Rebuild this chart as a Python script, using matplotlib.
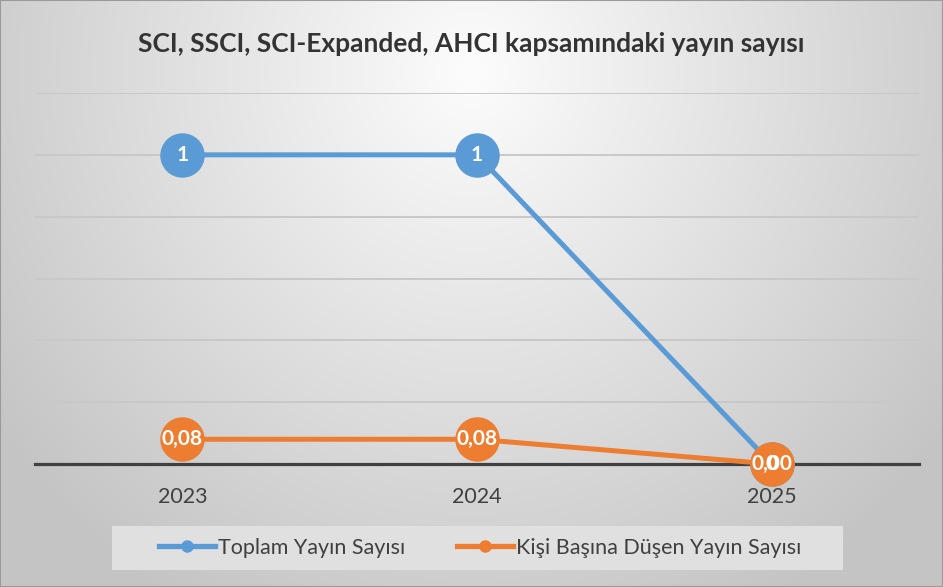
import numpy as np
import matplotlib
matplotlib.use("Agg")
import matplotlib.pyplot as plt
from matplotlib.patches import Rectangle
from matplotlib.lines import Line2D

years = ["2023", "2024", "2025"]
toplam = [1, 1, 0]
kisi = [0.08, 0.08, 0.00]
toplam_labels = ["1", "1", "0"]
kisi_labels = ["0,08", "0,08", "0,00"]
series_names = ["Toplam Yayın Sayısı", "Kişi Başına Düşen Yayın Sayısı"]
title = "SCI, SSCI, SCI-Expanded, AHCI kapsamındaki yayın sayısı"

FONT = ["Lato", "DejaVu Sans"]
plt.rcParams["font.family"] = FONT

W, H = 943, 587
fig = plt.figure(figsize=(W / 100, H / 100), dpi=100)

# background gradient
bg = fig.add_axes([0, 0, 1, 1], zorder=-10)
yy, xx = np.mgrid[0:H, 0:W]
dx = (xx - W * 0.5) / (W * 0.62)
dy = (yy - H * 0.12) / (H * 1.05)
r = np.sqrt(dx ** 2 + dy ** 2)
r = np.clip(r, 0, 1)
val = 0.99 - 0.22 * r
img = np.dstack([val, val, val])
bg.imshow(img, extent=[0, 1, 0, 1], aspect="auto", origin="upper", interpolation="bilinear")
bg.set_xlim(0, 1)
bg.set_ylim(0, 1)
bg.axis("off")
bg.add_patch(Rectangle((0, 0), 1, 1, transform=bg.transAxes, fill=False,
                       edgecolor="#9a9a9a", lw=1.5))

# legend box
bg.add_patch(Rectangle((112 / W, 1 - 570 / H), (843 - 112) / W, (570 - 526) / H,
                       transform=bg.transAxes, facecolor="#e0e0e0", edgecolor="none"))

left, right = 35 / W, 919 / W
bottom, top = 1 - 464 / H, 1 - 93 / H
ax = fig.add_axes([left, bottom, right - left, top - bottom])
ax.set_facecolor("none")
x = np.arange(len(years))
ax.set_xlim(-0.5, len(years) - 0.5)
ax.set_ylim(0, 1.2)
ax.set_yticks(np.arange(0.2, 1.21, 0.2))
ax.yaxis.grid(True, color="#c8c8c8", lw=1.4)
ax.set_axisbelow(True)
ax.tick_params(axis="y", left=False, labelleft=False)
ax.tick_params(axis="x", bottom=False, labelsize=15.5, labelcolor="#404040", pad=13)
ax.set_xticks(x)
ax.set_xticklabels(years)
for s in ["top", "right", "left"]:
    ax.spines[s].set_visible(False)
ax.spines["bottom"].set_color("#404040")
ax.spines["bottom"].set_linewidth(2.3)
ax.spines["bottom"].set_zorder(1)

blue = "#5b9bd5"
orange = "#ed7d31"
ax.plot(x, toplam, color=blue, lw=3.6, marker="o", ms=31, zorder=3, clip_on=False)
ax.plot(x, kisi, color=orange, lw=3.6, marker="o", ms=31, zorder=4, clip_on=False)
for xi, v, lab in zip(x, toplam, toplam_labels):
    ax.text(xi, v, lab, ha="center", va="center", color="white", fontsize=15,
            fontweight="bold", zorder=6)
for xi, v, lab in zip(x, kisi, kisi_labels):
    ax.text(xi, v, lab, ha="center", va="center", color="white", fontsize=15,
            fontweight="bold", zorder=7)

fig.text(0.5, 1 - 44 / H, title, ha="center", va="center", fontsize=19,
         fontweight="bold", color="#333333")

handles = [Line2D([0], [0], color=blue, lw=3.8, marker="o", ms=8),
           Line2D([0], [0], color=orange, lw=3.8, marker="o", ms=8)]
fig.legend(handles, series_names, loc="center", bbox_to_anchor=(480 / W, 1 - 548 / H),
           ncol=2, frameon=False, fontsize=15.5, labelcolor="#404040",
           handlelength=2.6, handletextpad=0.15, columnspacing=2.4)

fig.savefig("out.png", dpi=100)
